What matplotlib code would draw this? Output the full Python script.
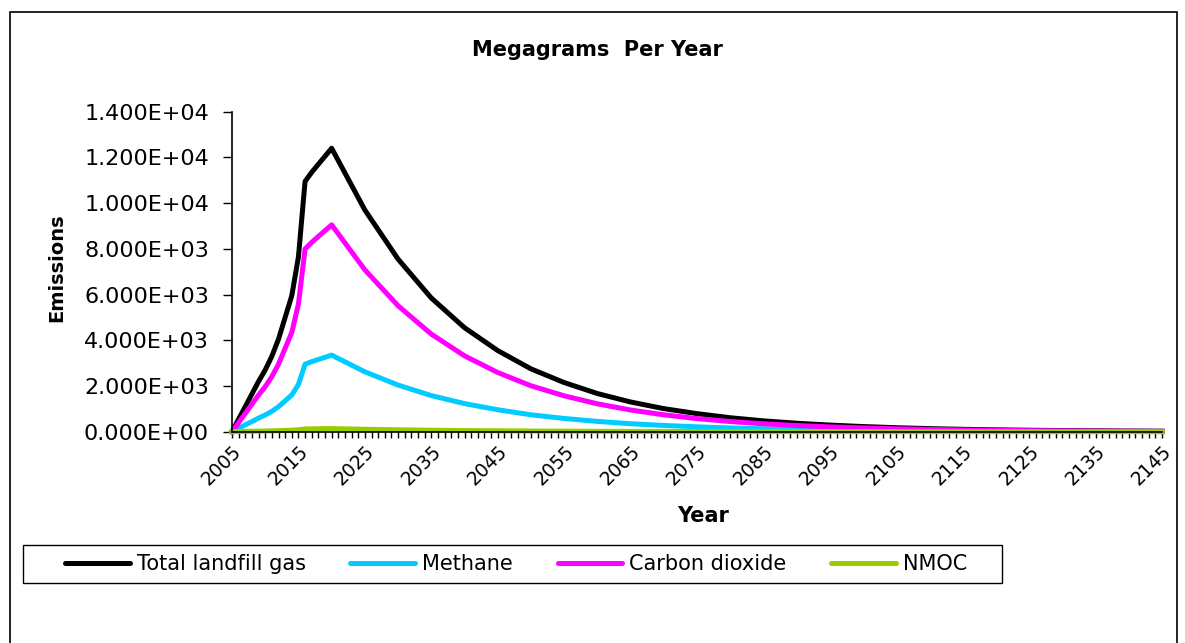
import matplotlib
matplotlib.use("Agg")
import matplotlib.pyplot as plt
from matplotlib.patches import Rectangle
from matplotlib.ticker import MultipleLocator, FuncFormatter

W, H = 1185, 643
plt.rcParams["font.family"] = ["DejaVu Sans"]

# ---- data (Mg/yr) ----------------------------------------------------------
years = [2005, 2006, 2007, 2008, 2009, 2010, 2011, 2012, 2013, 2014, 2015,
         2016, 2017, 2018, 2019, 2020,
         2025, 2030, 2035, 2040, 2045, 2050, 2055, 2060, 2065, 2070, 2075,
         2080, 2085, 2090, 2095, 2100, 2105, 2110, 2115, 2120, 2125, 2130,
         2135, 2140, 2145]

total_lfg = [0, 550, 1100, 1650, 2200, 2700, 3300, 4050, 5000, 5950, 7650,
             10950, 11350, 11700, 12050, 12400,
             9700, 7550, 5850, 4550, 3550, 2750, 2150, 1670, 1300, 1010, 790,
             610, 475, 370, 290, 225, 175, 135, 105, 82, 64, 50, 39, 30, 23]

methane = [0, 150, 300, 445, 595, 730, 890, 1095, 1350, 1605, 2065,
           2955, 3065, 3160, 3255, 3350,
           2620, 2040, 1580, 1230, 960, 740, 580, 450, 350, 273, 213,
           165, 128, 100, 78, 61, 47, 36, 28, 22, 17, 13.5, 10.5, 8, 6]

co2 = [0, 400, 800, 1205, 1605, 1970, 2410, 2955, 3650, 4345, 5585,
       7995, 8285, 8540, 8795, 9050,
       7080, 5510, 4270, 3320, 2590, 2010, 1570, 1220, 950, 740, 575,
       445, 345, 270, 210, 165, 128, 99, 77, 60, 47, 36, 28, 22, 17]

nmoc = [0, 7, 14, 20, 25, 31, 38, 46, 56, 66, 86,
        120, 125, 129, 133, 136,
        107, 83, 64, 50, 39, 30, 24, 18, 14, 11, 9,
        7, 5, 4, 3, 2.5, 2, 1.5, 1, 1, 1, 0.5, 0.5, 0.5, 0.3]

series = [("Total landfill gas", total_lfg, "#000000"),
          ("Methane", methane, "#00CCFF"),
          ("Carbon dioxide", co2, "#FF00FF"),
          ("NMOC", nmoc, "#99CC00")]

# ---- figure ----------------------------------------------------------------
fig = plt.figure(figsize=(W / 100, H / 100), dpi=100)
ax = fig.add_axes([232 / W, 1 - 431.7 / H, (1162 - 232) / W, 320 / H])

handles = []
for name, vals, col in series:
    h, = ax.plot(years, vals, color=col, lw=3.6, solid_joinstyle="round",
                 label=name, clip_on=False)
    handles.append(h)

ax.set_xlim(2005, 2145)
ax.set_ylim(0, 14000)
ax.yaxis.set_major_locator(MultipleLocator(2000))
ax.yaxis.set_major_formatter(FuncFormatter(lambda v, p: "%.3E" % v))
ax.set_xticks(list(range(2005, 2146, 10)))
ax.xaxis.set_minor_locator(MultipleLocator(1))

for s in ("top", "right"):
    ax.spines[s].set_visible(False)
for s in ("left", "bottom"):
    ax.spines[s].set_color("black")
    ax.spines[s].set_linewidth(1.2)

ax.tick_params(axis="y", direction="out", length=6.5, width=1, pad=10,
               labelsize=16, colors="black")
ax.tick_params(axis="x", which="both", direction="out", length=4.5, width=1,
               colors="black")
ax.tick_params(axis="x", which="major", labelsize=13.5, pad=3)
for lab in ax.get_xticklabels():
    lab.set_rotation(45)
    lab.set_ha("right")
    lab.set_va("top")
    lab.set_rotation_mode("anchor")

fig.text(597 / W, 1 - 50 / H, "Megagrams  Per Year", ha="center", va="center",
         fontsize=15, fontweight="bold")
fig.text(703 / W, 1 - 516 / H, "Year", ha="center", va="center",
         fontsize=15, fontweight="bold")
fig.text(57 / W, 1 - 268 / H, "Emissions", ha="center", va="center",
         rotation=90, fontsize=14, fontweight="bold")

# legend: entries placed by matplotlib, box drawn separately
leg = fig.legend(handles, [s[0] for s in series], loc="center left",
                 bbox_to_anchor=(65 / W, 1 - 564 / H), ncol=4, fontsize=15,
                 frameon=False, borderpad=0, borderaxespad=0,
                 handlelength=3.1, handletextpad=0.34, columnspacing=2.15)
for lh in leg.get_lines():
    lh.set_linewidth(3.6)
    lh.set_solid_capstyle("round")
fig.patches.append(Rectangle((23 / W, 1 - 583 / H), (1002 - 23) / W, 38 / H,
                             transform=fig.transFigure, fill=False,
                             edgecolor="black", lw=1.0))

# outer chart border (bottom runs off the image)
fig.patches.append(Rectangle((10 / W, -0.05), (1177 - 10) / W, 1.05 - 12 / H,
                             transform=fig.transFigure, fill=False,
                             edgecolor="black", lw=1.2))

fig.savefig("out.png", dpi=100)
